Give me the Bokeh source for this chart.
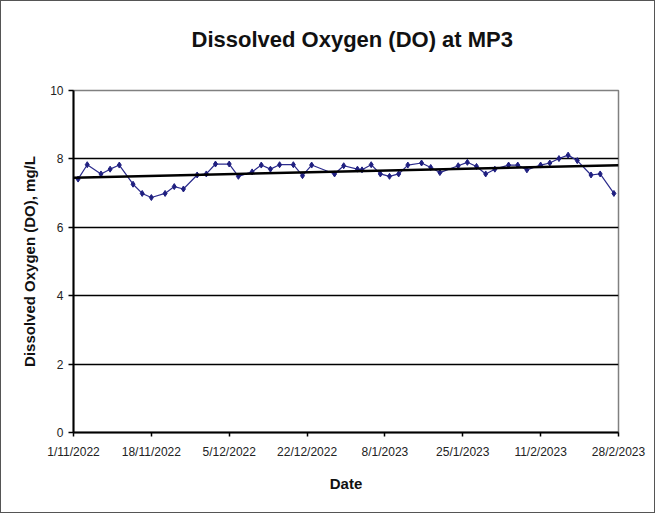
import numpy as np
from datetime import datetime
from bokeh.plotting import figure
from bokeh.models import Range1d, FixedTicker, ColumnDataSource, Title
from bokeh.embed import file_html
from bokeh.resources import INLINE

# ---- data ----
dates = ["2022-11-02", "2022-11-04", "2022-11-07", "2022-11-09", "2022-11-11",
         "2022-11-14", "2022-11-16", "2022-11-18", "2022-11-21", "2022-11-23",
         "2022-11-25", "2022-11-28", "2022-11-30", "2022-12-02", "2022-12-05",
         "2022-12-07", "2022-12-10", "2022-12-12", "2022-12-14", "2022-12-16",
         "2022-12-19", "2022-12-21", "2022-12-23", "2022-12-28", "2022-12-30",
         "2023-01-02", "2023-01-03", "2023-01-05", "2023-01-07", "2023-01-09",
         "2023-01-11", "2023-01-13", "2023-01-16", "2023-01-18", "2023-01-20",
         "2023-01-24", "2023-01-26", "2023-01-28", "2023-01-30", "2023-02-01",
         "2023-02-04", "2023-02-06", "2023-02-08", "2023-02-11", "2023-02-13",
         "2023-02-15", "2023-02-17", "2023-02-19", "2023-02-22", "2023-02-24",
         "2023-02-27"]
do_values = [7.41, 7.83, 7.56, 7.70, 7.82,
             7.26, 6.99, 6.87, 6.99, 7.19,
             7.12, 7.53, 7.56, 7.85, 7.85,
             7.49, 7.62, 7.82, 7.70, 7.83,
             7.83, 7.51, 7.82, 7.56, 7.80,
             7.70, 7.68, 7.83, 7.56, 7.49,
             7.56, 7.82, 7.88, 7.75, 7.60,
             7.80, 7.90, 7.78, 7.56, 7.70,
             7.82, 7.82, 7.68, 7.82, 7.88,
             8.01, 8.11, 7.95, 7.53, 7.56,
             6.99]
tick_labels = ["1/11/2022", "18/11/2022", "5/12/2022", "22/12/2022",
               "8/1/2023", "25/1/2023", "11/2/2023", "28/2/2023"]
y_ticks = [0, 2, 4, 6, 8, 10]

title_text = "Dissolved Oxygen (DO)  at MP3"
x_title = "Date"
y_title = "Dissolved Oxygen (DO), mg/L"

# ---- helpers ----
def to_ms(dt):
    return (dt - datetime(1970, 1, 1)).total_seconds() * 1000.0

x_dt = [datetime.strptime(d, "%Y-%m-%d") for d in dates]
x_ms = [to_ms(d) for d in x_dt]
tick_ms = [to_ms(datetime.strptime(t, "%d/%m/%Y")) for t in tick_labels]

# linear trend line over the data
coef = np.polyfit(np.array(x_ms), np.array(do_values), 1)
trend_x = [tick_ms[0], tick_ms[-1]]
trend_y = [coef[0] * v + coef[1] for v in trend_x]

FONT = "Liberation Sans"

p = figure(width=655, height=513, x_axis_type="datetime",
           output_backend="svg", toolbar_location=None,
           x_range=Range1d(tick_ms[0], tick_ms[-1]),
           y_range=Range1d(0, 10),
           min_border_left=72, min_border_right=38,
           min_border_top=89, min_border_bottom=82)

p.title.text = title_text
p.title.align = "left"
p.title.offset = 118
p.title.text_font = FONT
p.title.text_font_size = "22px"
p.title.text_font_style = "bold"
p.title.text_color = "#111111"
p.title.standoff = 0

# empty spacer between the frame and the title
spacer = Title(text=" ", text_font_size="1px", standoff=36)
p.add_layout(spacer, "above")

p.background_fill_color = "white"
p.border_fill_color = "white"
p.outline_line_color = "#808080"
p.outline_line_width = 1.5

# gridlines
p.xgrid.visible = False
p.ygrid.ticker = FixedTicker(ticks=y_ticks)
p.ygrid.grid_line_color = "black"
p.ygrid.grid_line_width = 1.5

# axes
for ax in (p.xaxis[0], p.yaxis[0]):
    ax.axis_line_color = "black"
    ax.axis_line_width = 2
    ax.major_tick_line_color = "black"
    ax.major_tick_line_width = 1.5
    ax.major_tick_in = 0
    ax.minor_tick_line_color = None
    ax.major_label_text_font = FONT
    ax.major_label_text_font_size = "12px"
    ax.major_label_text_color = "#222222"
    ax.axis_label_text_font = FONT
    ax.axis_label_text_font_size = "15px"
    ax.axis_label_text_font_style = "bold"
    ax.axis_label_text_color = "#111111"

p.xaxis.ticker = FixedTicker(ticks=tick_ms)
p.xaxis.major_label_overrides = {t: l for t, l in zip(tick_ms, tick_labels)}
p.xaxis.major_tick_out = 4
p.xaxis.major_label_standoff = 8
p.xaxis.axis_label = x_title
p.xaxis.axis_label_standoff = 13

p.yaxis.ticker = FixedTicker(ticks=y_ticks)
p.yaxis.major_tick_out = 5
p.yaxis.major_label_standoff = 5
p.yaxis.axis_label = y_title
p.yaxis.axis_label_standoff = 9

src = ColumnDataSource(dict(x=x_ms, y=do_values))
p.line("x", "y", source=src, line_color="#2b2b8c", line_width=1.2)
p.scatter("x", "y", source=src, marker="diamond", size=6,
          fill_color="#1f1f80", line_color="#1f1f80")
p.line(trend_x, trend_y, line_color="black", line_width=2.5)

p.styles = {"border": "1.5px solid #555555", "box-sizing": "border-box"}

open("out.html", "w").write(file_html(p, INLINE))
